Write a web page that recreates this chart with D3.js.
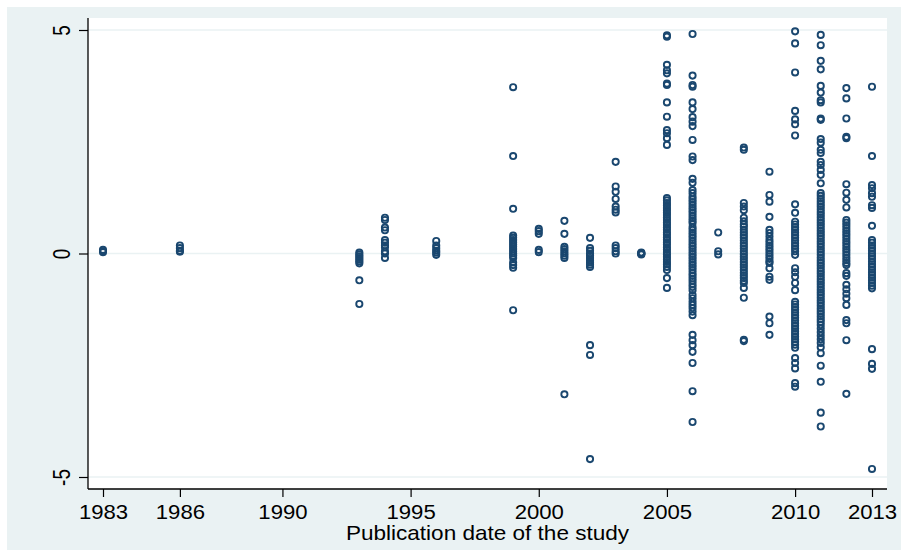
<!DOCTYPE html>
<html><head><meta charset="utf-8">
<script src="https://cdn.jsdelivr.net/npm/d3@7"></script>
<style>body{margin:0;background:#fff}svg{display:block}text{font-family:"Liberation Sans",Arial,sans-serif}</style>
</head><body><svg id="c" width="901" height="551"></svg>
<script>
const xTicks = [1983, 1986, 1990, 1995, 2000, 2005, 2010, 2013];
const yTicks = [-5, 0, 5];
const xTitle = "Publication date of the study";

const y1983 = [0.08, 0.05, 0.03];
const y1986 = [0.18, 0.12, 0.06, 0.04];
const y1993 = [0.02, -0.02, -0.06, -0.1, -0.14, -0.18, -0.22, -0.6, -1.13];
const y1994 = [0.8, 0.75, 0.58, 0.52, 0.3, 0.24, 0.18, 0.14, 0.05, 0.0, -0.1];
const y1996 = [0.28, 0.18, 0.12, 0.06, 0.02, -0.03];
const y1999 = [3.72, 2.18, 1.0, 0.4, 0.35, 0.3, 0.25, 0.2, 0.15, 0.1, 0.05, 0.0, -0.05, -0.1, -0.2, -0.26, -0.32, -1.27];
const y2000 = [0.55, 0.5, 0.44, 0.08, 0.03];
const y2001 = [0.73, 0.44, 0.15, 0.1, 0.05, 0.0, -0.05, -0.1, -3.15];
const y2002 = [0.35, 0.12, 0.06, 0.0, -0.05, -0.1, -0.15, -0.2, -0.25, -0.3, -2.05, -2.27, -4.6];
const y2003 = [2.05, 1.5, 1.38, 1.22, 1.05, 0.98, 0.92, 0.18, 0.12, 0.05, 0.0];
const y2004 = [0.02, 0.01, 0.0, -0.01, -0.02];
const y2005 = [4.88, 4.85, 4.22, 4.1, 4.03, 3.8, 3.77, 3.38, 3.06, 2.76, 2.69, 2.58, 2.43,
  1.24, 1.19, 1.13, 1.08, 1.02, 0.97, 0.91, 0.86, 0.8, 0.75, 0.69, 0.64, 0.58, 0.53, 0.47, 0.42, 0.36, 0.31,
  0.25, 0.2, 0.14, 0.09, 0.03, -0.02, -0.08, -0.13, -0.19, -0.24, -0.3, -0.37, -0.55, -0.77];
const y2006 = [4.91, 3.98, 3.77, 3.73, 3.38, 3.23, 3.05, 2.95, 2.85, 2.54, 2.17, 2.09, 1.67, 1.58, 1.42, 1.35,
  1.27, 1.21, 1.15, 1.09, 1.03, 0.97, 0.91, 0.85, 0.79, 0.73, 0.68,
  0.59, 0.53, 0.47, 0.41, 0.35, 0.29, 0.23, 0.17, 0.11, 0.05, -0.01, -0.07, -0.13, -0.19, -0.25, -0.31, -0.37,
  -0.44, -0.5, -0.56, -0.62, -0.69, -0.75, -0.82, -0.93, -1.0, -1.08, -1.15, -1.22, -1.3, -1.38,
  -1.82, -1.94, -2.05, -2.2, -2.45, -3.08, -3.77];
const y2007 = [0.47, 0.05, -0.02];
const y2008 = [2.37, 2.32, 1.13, 1.05, 0.97, 0.8, 0.72, 0.65, 0.6,
  0.53, 0.47, 0.41, 0.35, 0.29, 0.23, 0.17, 0.11, 0.05, -0.01, -0.07, -0.13, -0.19, -0.25, -0.31, -0.37,
  -0.43, -0.49, -0.55, -0.61, -0.66, -0.77, -0.99, -1.93, -1.96];
const y2009 = [1.83, 1.31, 1.16, 0.82, 0.53, 0.46, 0.38, 0.3, 0.24, 0.18, 0.12, 0.06, 0.0, -0.06, -0.12, -0.18, -0.21,
  -0.33, -0.52, -0.59, -1.41, -1.56, -1.82];
const y2010 = [4.97, 4.7, 4.05, 3.19, 3.0, 2.89, 2.64, 1.1, 0.91,
  0.71, 0.65, 0.59, 0.53, 0.47, 0.41, 0.35, 0.29, 0.23, 0.17, 0.11, 0.05, -0.03,
  -0.33, -0.42, -0.52, -0.66, -0.82,
  -1.08, -1.14, -1.2, -1.26, -1.32, -1.38, -1.44, -1.5, -1.56, -1.62, -1.68, -1.74, -1.8, -1.86, -1.92, -1.98, -2.04, -2.11,
  -2.34, -2.45, -2.57, -2.9, -2.98];
const y2011 = [4.89, 4.66, 4.31, 4.12, 3.75, 3.6, 3.43, 3.38, 3.02, 2.99, 2.56, 2.48, 2.32, 2.25, 2.05, 1.98, 1.87, 1.76, 1.57,
  1.35, 1.29, 1.23, 1.17, 1.11, 1.05, 0.99, 0.93, 0.87, 0.81, 0.75, 0.69, 0.63, 0.57, 0.51, 0.45, 0.39, 0.33, 0.27,
  0.21, 0.15, 0.09, 0.03, -0.03, -0.09, -0.15, -0.21, -0.27, -0.33, -0.39, -0.45, -0.51, -0.57, -0.63, -0.69,
  -0.75, -0.81, -0.87, -0.93, -0.99, -1.05, -1.11, -1.17, -1.23, -1.29, -1.35, -1.41, -1.47, -1.53, -1.6, -1.68,
  -1.76, -1.84, -1.92, -2.0, -2.1, -2.23, -2.51, -2.87, -3.56, -3.87];
const y2012 = [3.7, 3.47, 3.02, 2.61, 2.58, 1.55, 1.36, 1.2, 1.03,
  0.75, 0.69, 0.63, 0.57, 0.51, 0.45, 0.39, 0.33, 0.27, 0.21, 0.15, 0.09, 0.03, -0.03, -0.09, -0.15, -0.21, -0.26,
  -0.44, -0.5, -0.7, -0.8, -0.9, -1.0, -1.15, -1.49, -1.56, -1.94, -3.14];
const y2013 = [3.73, 2.18, 1.53, 1.46, 1.35, 1.27, 1.08, 1.02, 0.62,
  0.3, 0.24, 0.18, 0.12, 0.06, 0.0, -0.06, -0.12, -0.18, -0.24, -0.3, -0.36, -0.42, -0.48, -0.54, -0.6, -0.66,
  -0.72, -0.78, -2.14, -2.47, -2.58, -4.82];

const years = [1983, 1986, 1993, 1994, 1996, 1999, 2000, 2001, 2002, 2003, 2004, 2005, 2006, 2007, 2008, 2009, 2010, 2011, 2012, 2013];
const values = [y1983, y1986, y1993, y1994, y1996, y1999, y2000, y2001, y2002, y2003, y2004, y2005, y2006, y2007, y2008, y2009, y2010, y2011, y2012, y2013];

const pts = [];
years.forEach((yr, i) => values[i].forEach(v => pts.push({x: yr, y: v})));

const svg = d3.select("#c");
const W = 901, H = 551;
const plot = {l: 88, r: 887, t: 18, b: 489};
const x = d3.scaleLinear().domain([1983, 2013]).range([103, 872]);
const y = d3.scaleLinear().domain([-5, 5]).range([477, 30]);

svg.append("rect").attr("x", 7).attr("y", 7).attr("width", W - 7).attr("height", 543).attr("fill", "#eaf2f3");
svg.append("rect").attr("x", plot.l).attr("y", plot.t).attr("width", plot.r - plot.l).attr("height", plot.b - plot.t).attr("fill", "#ffffff");

// gridlines
svg.append("g").selectAll("line").data(yTicks).join("line")
  .attr("x1", plot.l).attr("x2", plot.r)
  .attr("y1", d => y(d)).attr("y2", d => y(d))
  .attr("stroke", "#eaf2f3").attr("stroke-width", 1.6);

// points
svg.append("g").selectAll("circle").data(pts).join("circle")
  .attr("cx", d => x(d.x)).attr("cy", d => y(d.y)).attr("r", 3.1)
  .attr("fill", "none").attr("stroke", "#1a476f").attr("stroke-width", 1.9);

// y axis
const yAxis = svg.append("g").attr("transform", `translate(${plot.l},0)`)
  .call(d3.axisLeft(y).tickValues(yTicks).tickSize(9).tickFormat(d => String(d)));
yAxis.select(".domain").remove();
yAxis.selectAll(".tick line").attr("stroke", "#000").attr("stroke-width", 1.2);
yAxis.selectAll(".tick text").attr("font-size", 21).attr("fill", "#000")
  .attr("text-anchor", "middle").attr("x", null).attr("dy", null)
  .attr("transform", "translate(-18,0) scale(1.1,0.9) rotate(-90)");
svg.append("line").attr("x1", plot.l).attr("x2", plot.l).attr("y1", plot.t).attr("y2", plot.b)
  .attr("stroke", "#000").attr("stroke-width", 1.3);

// x axis
const xAxis = svg.append("g").attr("transform", `translate(0,${plot.b})`)
  .call(d3.axisBottom(x).tickValues(xTicks).tickSize(8).tickFormat(d => String(d)));
xAxis.select(".domain").remove();
xAxis.selectAll(".tick line").attr("stroke", "#000").attr("stroke-width", 1.2);
xAxis.selectAll(".tick text").attr("font-size", 20.5).attr("fill", "#000").attr("y", 30).attr("dy", null)
  .attr("transform", "scale(1.08,1)");
svg.append("line").attr("x1", plot.l).attr("x2", plot.r).attr("y1", plot.b).attr("y2", plot.b)
  .attr("stroke", "#000").attr("stroke-width", 1.3);

svg.append("text").attr("text-anchor", "middle")
  .attr("transform", `translate(${(plot.l + plot.r) / 2},540) scale(1.1,1)`)
  .attr("font-size", 20.5).attr("fill", "#000").text(xTitle);
</script></body></html>
